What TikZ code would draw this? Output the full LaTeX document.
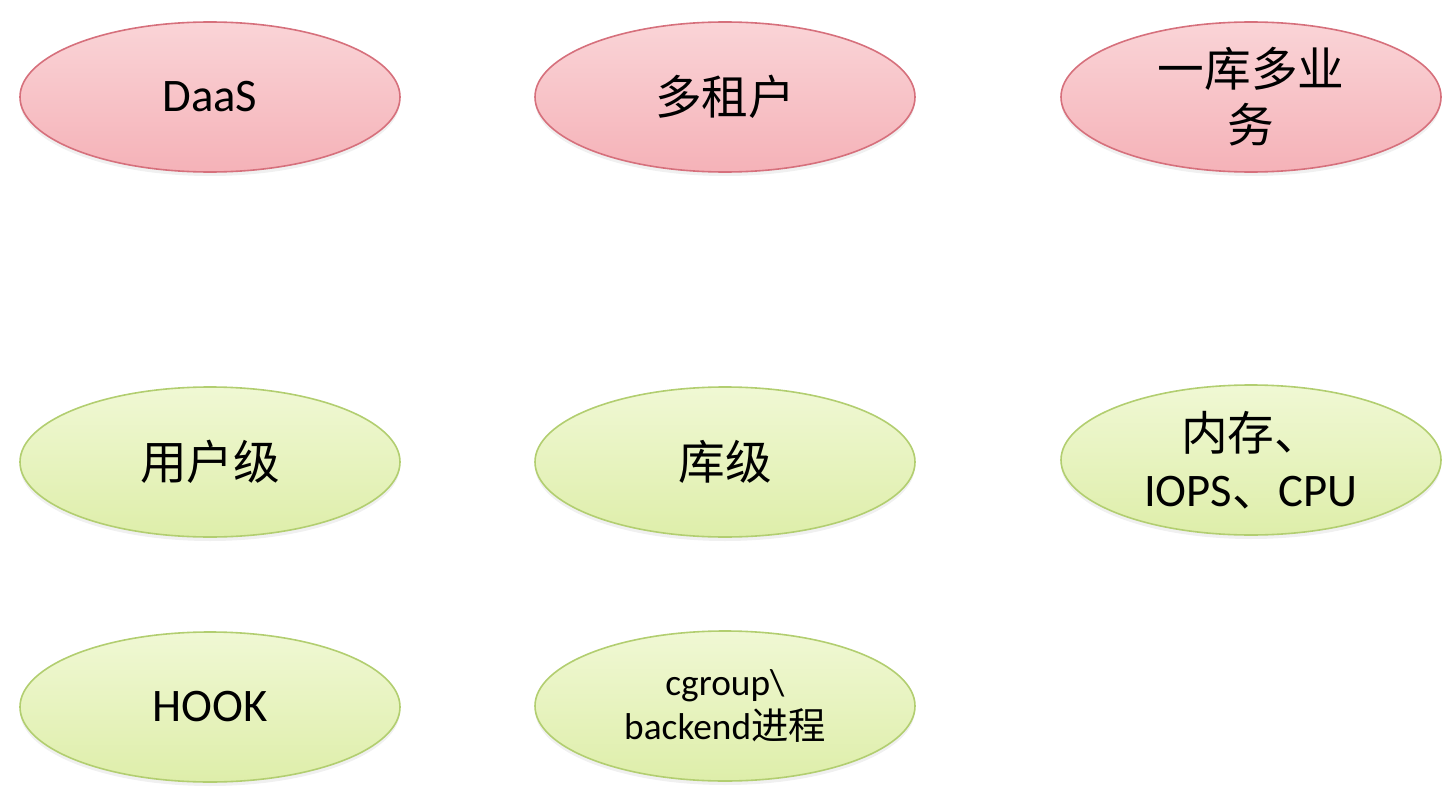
\documentclass[tikz,border=0pt]{standalone}
\usepackage{fontspec}
\setmainfont{Carlito}
\newfontfamily\cjk{Noto Sans CJK SC}
\usetikzlibrary{shapes.geometric,shadows}
\definecolor{pinkfill}{RGB}{245,178,184}
\definecolor{pinktop}{RGB}{250,212,215}
\definecolor{pinkedge}{RGB}{214,112,124}
\definecolor{greenfill}{RGB}{222,238,170}
\definecolor{greentop}{RGB}{240,248,212}
\definecolor{greenedge}{RGB}{178,206,112}
\tikzset{every picture/.style={line width=0.75pt}}
\tikzset{
  blob/.style={ellipse, minimum width=285pt, minimum height=112.5pt, inner sep=0pt,
    align=center, font=\fontsize{35}{42}\selectfont, line width=1.2pt,
    drop shadow={opacity=0.12, shadow xshift=0pt, shadow yshift=-3pt}},
  pinkblob/.style={blob, draw=pinkedge, top color=pinktop, bottom color=pinkfill},
  greenblob/.style={blob, draw=greenedge, top color=greentop, bottom color=greenfill}
}
\begin{document}
\begin{tikzpicture}[x=0.75pt,y=0.75pt,yscale=-1,xscale=1]
\useasboundingbox (0,0) rectangle (1453,792);

% Top row
\node [pinkblob] (daas) at (210,97) {DaaS};
\node [pinkblob] (tenant) at (725,97) {\cjk 多租户};
\node [pinkblob] (onedb) at (1251,97) {\cjk 一库多业\\\cjk 务};

% Middle row
\node [greenblob] (userlvl) at (210,462) {\cjk 用户级};
\node [greenblob] (dblvl) at (725,462) {\cjk 库级};
\node [greenblob] (res) at (1251,460) {\cjk 内存、\\IOPS{\cjk 、}CPU};

% Bottom row
\node [greenblob] (hook) at (210,707) {HOOK};
\node [greenblob, font=\fontsize{28}{33}\selectfont] (cgrp) at (725,706) {cgroup\textbackslash\\backend{\cjk 进程}};

\end{tikzpicture}
\end{document}
